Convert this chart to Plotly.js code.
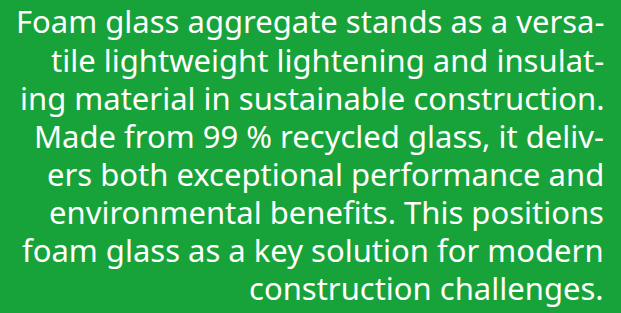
<!DOCTYPE html>
<html>
<head>
<meta charset="utf-8">
<script src="https://cdn.plot.ly/plotly-3.0.1.min.js"></script>
<style>html,body{margin:0;padding:0;background:#17a33a;}#chart{width:621px;height:313px;}</style>
</head>
<body>
<div id="chart"></div>
<script>
// Text lines of the panel (right-aligned, as shown)
const lines = [
  "Foam glass aggregate stands as a versa-",
  "tile lightweight lightening and insulat-",
  "ing material in sustainable construction.",
  "Made from 99 % recycled glass, it deliv-",
  "ers both exceptional performance and",
  "environmental benefits. This positions",
  "foam glass as a key solution for modern",
  "construction challenges."
];
const lineIndex = lines.map((_, i) => i);

const bg = "#17a33a";
const annotations = lines.map((t, i) => ({
  text: t, xref: "x", yref: "y", x: 606, y: lineIndex[i],
  xanchor: "right", yanchor: "middle", showarrow: false,
  font: {family: "Noto Sans, sans-serif", size: 31, color: "#ffffff"}
}));

const layout = {
  width: 621, height: 313,
  margin: {l: 0, r: 0, t: 0, b: 0},
  paper_bgcolor: bg, plot_bgcolor: bg,
  showlegend: false,
  xaxis: {range: [0, 621], visible: false, fixedrange: true},
  yaxis: {range: [7.651, -0.564], visible: false, fixedrange: true},
  annotations: annotations
};
Plotly.newPlot("chart", [], layout, {displayModeBar: false, staticPlot: true});
</script>
</body>
</html>
